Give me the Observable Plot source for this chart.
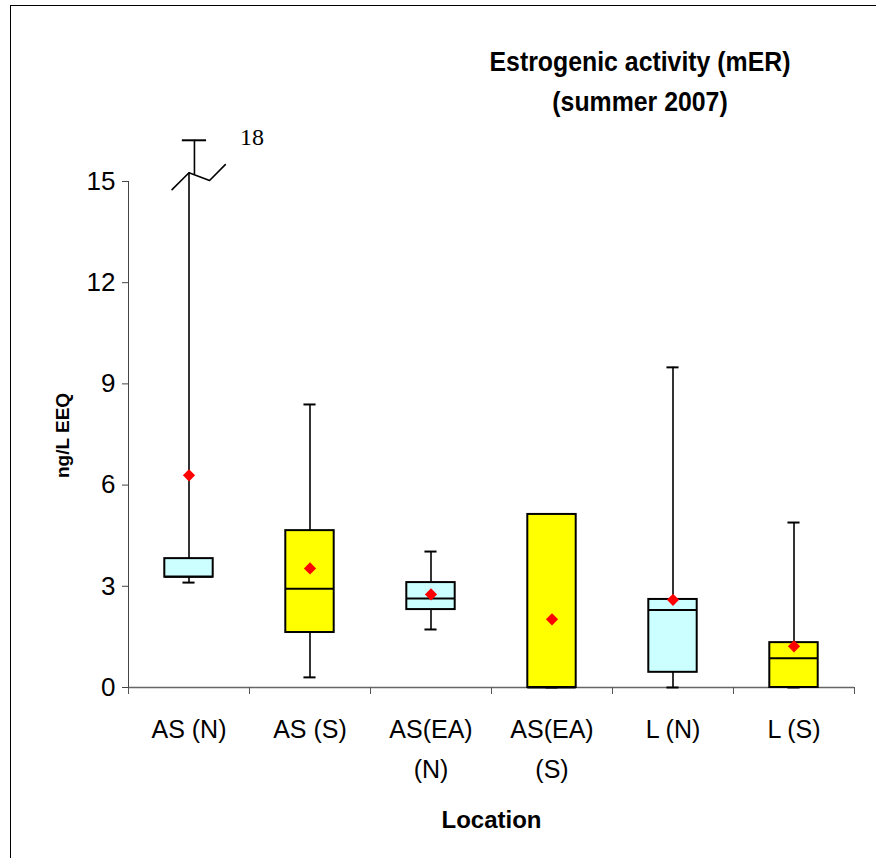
<!DOCTYPE html>
<html><head><meta charset="utf-8">
<script src="https://cdn.jsdelivr.net/npm/d3@7"></script>
<script src="https://cdn.jsdelivr.net/npm/@observablehq/plot@0.6"></script>
<style>
body{margin:0;background:#fff;}
#wrap{position:relative;width:876px;height:858px;overflow:hidden;background:#fff;}
#border{position:absolute;left:10px;top:5px;width:900px;height:900px;border:1px solid #000;box-sizing:border-box;}
#chart{position:absolute;left:0;top:0;}
#title{position:absolute;left:440px;top:42px;width:400px;text-align:center;white-space:pre;
  font:bold 27px "Liberation Sans",Arial,sans-serif;line-height:40px;color:#000;
  transform:scaleX(0.92);transform-origin:50% 0;}
</style></head>
<body><div id="wrap"><div id="border"></div><div id="chart"></div><div id="title"></div></div>
<script>
const locations = ["AS (N)", "AS (S)", "AS(EA)\n(N)", "AS(EA)\n(S)", "L (N)", "L (S)"];
const sites = ["N", "S", "N", "S", "N", "S"];
const minima = [3.11, 0.3, 1.72, 0, 0, 0];
const q1s = [3.27, 1.63, 2.31, 0, 0.45, 0];
const medians = [3.28, 2.93, 2.64, 0, 2.3, 0.87];
const q3s = [3.82, 4.65, 3.11, 5.13, 2.61, 1.33];
const maxima = [18, 8.39, 4.03, 5.13, 9.49, 4.89];
const means = [6.29, 3.53, 2.76, 2.02, 2.6, 1.22];
const yTicks = [0, 3, 6, 9, 12, 15];
const axisBreak = 15;
const titleText = "Estrogenic activity (mER)\n(summer 2007)";

const sans = '"Liberation Sans",Arial,sans-serif';
const disp = v => v <= axisBreak ? v : axisBreak + (v - axisBreak) * 0.407;
const rows = locations.map((name, i) => ({
  name, x: i + 0.5, site: sites[i], min: minima[i], q1: q1s[i], med: medians[i],
  q3: q3s[i], max: maxima[i], mean: means[i]
}));
const broken = rows.filter(d => d.max > axisBreak);
// zig-zag break symbol (offsets from whisker centre at the break value)
const zig = [[-0.14, -0.24], [0, 0.26], [0.17, 0.03], [0.30, 0.5]];
const zigPts = broken.flatMap(d => zig.map(([ox, oy]) => ({x: d.x + ox, y: axisBreak + oy, z: d.name})));
const hw = 0.2, cw = 0.05;

document.getElementById("title").textContent = titleText;

const plot = Plot.plot({
  width: 876, height: 858,
  marginLeft: 128, marginRight: 22, marginTop: 127, marginBottom: 171,
  x: {type: "linear", domain: [0, 6], axis: null},
  y: {domain: [0, 16.6], axis: null},
  color: {domain: ["N", "S"], range: ["#CCFFFF", "#FFFF00"]},
  style: {fontFamily: sans, fontSize: "25px", color: "#000", background: "transparent", overflow: "visible"},
  marks: [
    Plot.ruleY([0], {x1: 0, x2: 6, stroke: "#666", strokeWidth: 1.5}),
    Plot.ruleX([0], {y1: 0, y2: axisBreak, stroke: "#444", strokeWidth: 1}),
    Plot.axisY({ticks: yTicks, tickSize: 6, tickPadding: 7, fontSize: 26, label: null, stroke: "#444"}),
    Plot.axisX({ticks: d3.range(7), tickSize: 7, tickFormat: () => "", label: null, stroke: "#555"}),
    Plot.axisX({ticks: rows.map(d => d.x), tickSize: 0, tickPadding: 22, lineHeight: 1.6, fontSize: 25,
      tickFormat: d => locations[Math.floor(d)], label: null}),
    // whiskers
    Plot.ruleX(rows, {x: "x", y1: "min", y2: "q1", stroke: "#000", strokeWidth: 1.6}),
    Plot.ruleX(rows, {x: "x", y1: "q3", y2: d => d.max > axisBreak ? axisBreak + 0.26 : d.max, stroke: "#000", strokeWidth: 1.6}),
    Plot.ruleX(broken, {x: d => d.x + 0.045, y1: axisBreak + 0.2, y2: d => disp(d.max), stroke: "#000", strokeWidth: 1.6}),
    Plot.line(zigPts, {x: "x", y: "y", z: "z", stroke: "#000", strokeWidth: 1.6}),
    Plot.ruleY(rows, {y: "min", x1: d => d.x - cw, x2: d => d.x + cw, stroke: "#000", strokeWidth: 2}),
    Plot.ruleY(rows, {y: d => disp(d.max),
      x1: d => d.max > axisBreak ? d.x + 0.045 - 0.1 : d.x - cw,
      x2: d => d.max > axisBreak ? d.x + 0.045 + 0.1 : d.x + cw, stroke: "#000", strokeWidth: 2}),
    // boxes
    Plot.rect(rows, {x1: d => d.x - hw, x2: d => d.x + hw, y1: "q1", y2: "q3", fill: "site", stroke: "#000", strokeWidth: 2}),
    Plot.ruleY(rows, {y: "med", x1: d => d.x - hw, x2: d => d.x + hw, stroke: "#000", strokeWidth: 2}),
    // means
    Plot.dot(rows, {x: "x", y: "mean", symbol: "diamond2", r: 5.5, fill: "#FF0000", stroke: null}),
    // break value label
    Plot.text(broken, {x: d => d.x + 0.52, y: d => disp(d.max), text: d => String(d.max), dy: -3,
      fontFamily: '"Liberation Serif","Times New Roman",serif', fontSize: 24}),
    // axis titles
    Plot.text(["ng/L EEQ"], {frameAnchor: "left", textAnchor: "middle", rotate: -90, dx: -66, dy: 28,
      fontWeight: "bold", fontSize: 19, letterSpacing: "1px"}),
    Plot.text(["Location"], {frameAnchor: "bottom", dy: 140, fontWeight: "bold", fontSize: 24})
  ]
});
document.getElementById("chart").appendChild(plot);
</script></body></html>
